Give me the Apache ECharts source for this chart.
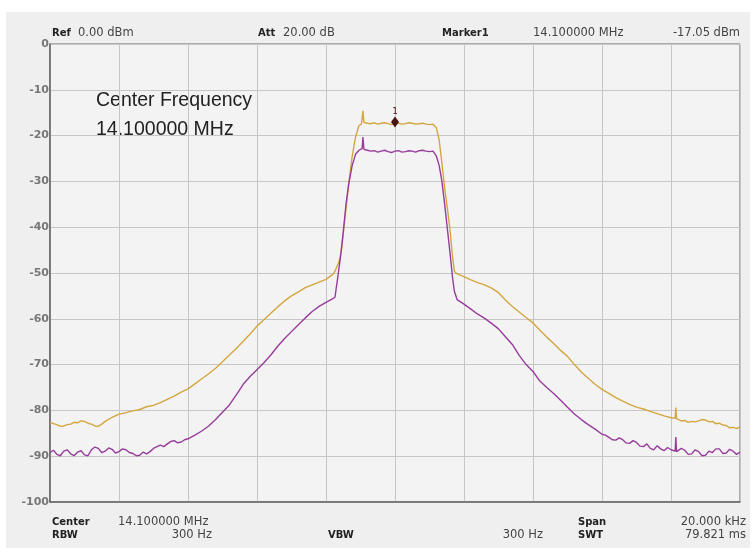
<!DOCTYPE html>
<html>
<head>
<meta charset="utf-8">
<script src="https://cdn.jsdelivr.net/npm/echarts@6/dist/echarts.min.js"></script>
<style>
  html, body { margin: 0; padding: 0; background: #ffffff; }
  #chart { position: absolute; left: 6px; top: 12px; width: 744px; height: 536px; background: #efefef; }
</style>
</head>
<body>
<div id="chart"></div>
<script>
// trace 1 (yellow) : [offset from centre in kHz, level in dBm]
const traceYellow = [
  [-10, -82.6], [-9.9, -82.9], [-9.8, -83.1], [-9.7, -83.5], [-9.6, -83.4], [-9.5, -83.1], [-9.4, -83.0],
  [-9.3, -82.6], [-9.2, -82.7], [-9.1, -82.3], [-9.0, -82.4], [-8.9, -82.8], [-8.8, -83.0], [-8.7, -83.4],
  [-8.6, -83.5], [-8.5, -83.0], [-8.4, -82.4], [-8.2, -81.5], [-8.0, -80.8], [-7.8, -80.5], [-7.6, -80.1],
  [-7.4, -79.8], [-7.2, -79.2], [-7.0, -78.9], [-6.8, -78.3], [-6.6, -77.6], [-6.4, -76.9], [-6.2, -76.0],
  [-6.0, -75.3], [-5.8, -74.2], [-5.6, -73.1], [-5.4, -72.0], [-5.2, -70.8], [-5.0, -69.4], [-4.8, -67.9],
  [-4.6, -66.5], [-4.4, -64.9], [-4.2, -63.3], [-4.0, -61.6], [-3.8, -60.2], [-3.6, -58.8], [-3.4, -57.4],
  [-3.2, -56.1], [-3.0, -55.0], [-2.8, -54.1], [-2.6, -53.2], [-2.4, -52.6], [-2.2, -52.0], [-2.0, -51.4],
  [-1.8, -50.3], [-1.74, -49.6], [-1.62, -47.5], [-1.55, -45], [-1.45, -38], [-1.35, -31], [-1.25, -25],
  [-1.15, -20.5], [-1.05, -17.9], [-0.97, -17.4], [-0.93, -14.6], [-0.9, -17.1],
  [-0.8, -17.3], [-0.7, -17.4], [-0.6, -17.2], [-0.5, -17.5], [-0.4, -17.3], [-0.3, -17.2], [-0.2, -17.4],
  [-0.1, -17.6], [0, -17.05], [0.1, -17.3], [0.2, -17.5], [0.3, -17.4], [0.4, -17.2], [0.5, -17.3],
  [0.6, -17.5], [0.7, -17.4], [0.8, -17.3], [0.9, -17.5], [1.0, -17.6], [1.1, -17.5],
  [1.2, -18.3], [1.28, -21], [1.36, -26], [1.44, -31.5], [1.52, -36], [1.6, -41], [1.66, -46], [1.72, -49.6],
  [1.8, -50.2], [2.0, -50.8], [2.2, -51.5], [2.4, -52.1], [2.6, -52.6], [2.8, -53.3], [3.0, -54.3],
  [3.2, -55.9], [3.4, -57.3], [3.6, -58.5], [3.8, -59.7], [4.0, -60.9], [4.2, -62.5], [4.4, -64.0],
  [4.6, -65.4], [4.8, -66.9], [5.0, -68.2], [5.2, -70.0], [5.4, -71.6], [5.6, -73.0], [5.8, -74.3],
  [6.0, -75.4], [6.2, -76.3], [6.4, -77.2], [6.6, -78.0], [6.8, -78.7], [7.0, -79.3], [7.2, -79.7],
  [7.4, -80.2], [7.6, -80.7], [7.8, -81.2], [8.0, -81.6], [8.12, -81.7], [8.14, -79.4], [8.16, -81.8],
  [8.2, -81.9], [8.3, -82.3], [8.4, -82.2], [8.5, -82.6], [8.6, -82.4], [8.7, -82.5], [8.8, -82.3],
  [8.9, -82.0], [9.0, -82.1], [9.1, -82.5], [9.2, -82.4], [9.3, -82.9], [9.4, -82.8], [9.5, -83.2],
  [9.6, -83.3], [9.7, -83.8], [9.8, -83.7], [9.9, -84.0], [10, -83.6]
];

// trace 2 (purple)
const tracePurple = [
  [-10, -89.2], [-9.9, -88.7], [-9.8, -89.6], [-9.7, -89.9], [-9.6, -88.9], [-9.5, -88.6], [-9.4, -89.5],
  [-9.3, -89.9], [-9.2, -89.1], [-9.1, -88.8], [-9.0, -89.7], [-8.9, -89.9], [-8.8, -88.6], [-8.7, -88.0],
  [-8.6, -88.3], [-8.5, -89.2], [-8.4, -88.9], [-8.3, -88.2], [-8.2, -88.5], [-8.1, -89.3], [-8.0, -89.0],
  [-7.9, -88.4], [-7.8, -88.6], [-7.7, -89.2], [-7.6, -89.4], [-7.5, -89.9], [-7.4, -89.8], [-7.3, -89.1],
  [-7.2, -89.5], [-7.1, -89.0], [-7.0, -88.3], [-6.9, -87.9], [-6.8, -87.6], [-6.7, -87.9], [-6.6, -87.3],
  [-6.5, -86.8], [-6.4, -86.6], [-6.3, -87.1], [-6.2, -86.9], [-6.1, -86.4], [-6.0, -86.2], [-5.8, -85.4],
  [-5.6, -84.5], [-5.4, -83.4], [-5.2, -82.0], [-5.0, -80.4], [-4.8, -78.8], [-4.6, -76.6], [-4.4, -74.3],
  [-4.2, -72.6], [-4.0, -71.1], [-3.8, -69.6], [-3.6, -67.9], [-3.4, -66.0], [-3.2, -64.3], [-3.0, -62.8],
  [-2.8, -61.3], [-2.6, -59.8], [-2.4, -58.4], [-2.2, -57.3], [-2.0, -56.4], [-1.8, -55.6], [-1.74, -55.3],
  [-1.66, -51], [-1.58, -46.5], [-1.5, -41], [-1.42, -35], [-1.34, -30.5], [-1.24, -26.5], [-1.14, -24.0],
  [-1.04, -23.2], [-0.95, -22.8], [-0.93, -20.3], [-0.9, -23.0],
  [-0.8, -23.2], [-0.7, -23.4], [-0.6, -23.3], [-0.5, -23.6], [-0.4, -23.4], [-0.3, -23.2], [-0.2, -23.5],
  [-0.1, -23.7], [0, -23.4], [0.1, -23.3], [0.2, -23.6], [0.3, -23.5], [0.4, -23.3], [0.5, -23.4],
  [0.6, -23.6], [0.7, -23.3], [0.8, -23.2], [0.9, -23.4], [1.0, -23.5], [1.1, -23.4],
  [1.2, -24.5], [1.28, -26.5], [1.36, -30], [1.44, -35], [1.52, -40.5], [1.6, -46], [1.66, -50.5], [1.72, -54],
  [1.8, -55.8], [2.0, -56.8], [2.2, -57.9], [2.4, -59.0], [2.6, -59.9], [2.8, -61.0], [3.0, -62.2],
  [3.2, -63.9], [3.4, -65.6], [3.6, -68.0], [3.8, -70.0], [4.0, -71.5], [4.2, -73.6], [4.4, -75.0],
  [4.6, -76.3], [4.8, -77.8], [5.0, -79.3], [5.2, -80.8], [5.4, -82.0], [5.6, -83.1], [5.8, -84.1],
  [6.0, -85.2], [6.1, -85.4], [6.2, -85.9], [6.3, -86.4], [6.4, -86.5], [6.5, -86.0], [6.6, -86.4],
  [6.7, -87.1], [6.8, -87.2], [6.9, -86.6], [7.0, -87.0], [7.1, -87.8], [7.2, -87.9], [7.3, -87.3],
  [7.4, -88.3], [7.5, -88.6], [7.6, -87.7], [7.7, -88.4], [7.8, -88.8], [7.9, -88.1], [8.0, -88.6],
  [8.12, -88.9], [8.14, -85.8], [8.16, -89.0], [8.2, -89.2], [8.3, -88.3], [8.4, -88.7], [8.5, -89.6],
  [8.6, -89.5], [8.7, -88.6], [8.8, -89.0], [8.9, -89.9], [9.0, -89.8], [9.1, -88.9], [9.2, -89.2],
  [9.3, -88.4], [9.4, -88.4], [9.5, -89.4], [9.6, -89.3], [9.7, -88.5], [9.8, -88.9], [9.9, -89.6], [10, -89.1]
];

const levelTicks = [0, -10, -20, -30, -40, -50, -60, -70, -80, -90, -100];
const markerPoint = [0, -17.05];

const chart = echarts.init(document.getElementById('chart'));
const txt = (x, y, s, bold, align) => ({
  type: 'text', x: x, y: y,
  style: {
    text: s, fill: bold ? '#222' : '#444',
    font: bold ? 'bold 10px "DejaVu Sans"' : '11.5px "DejaVu Sans"',
    textAlign: align || 'left', textVerticalAlign: 'middle'
  }
});

chart.setOption({
  animation: false,
  grid: {
    left: 44, right: 10, top: 32, bottom: 46,
    show: true, backgroundColor: '#f3f3f3', borderColor: '#666', borderWidth: 1
  },
  xAxis: {
    type: 'value', min: -10, max: 10, interval: 2,
    axisLine: { show: true, onZero: false, lineStyle: { color: '#666', width: 1.5 } },
    axisTick: { show: false },
    axisLabel: { show: false },
    splitLine: { show: true, lineStyle: { color: '#c6c6c6', width: 1 } }
  },
  yAxis: {
    type: 'value', min: -100, max: 0, interval: 10,
    axisLine: { show: true, onZero: false, lineStyle: { color: '#666', width: 1.5 } },
    axisTick: { show: false },
    axisLabel: {
      margin: 1, color: '#777', fontSize: 11, fontWeight: 'bold', fontFamily: 'DejaVu Sans',
      formatter: v => levelTicks.includes(v) ? String(v) : ''
    },
    splitLine: { show: true, lineStyle: { color: '#c6c6c6', width: 1 } }
  },
  series: [
    {
      type: 'line', data: traceYellow, showSymbol: false, z: 2,
      lineStyle: { color: '#d3a640', width: 1.4 },
      markPoint: {
        symbol: 'diamond', symbolSize: [8, 11],
        itemStyle: { color: '#4a1414' },
        label: { show: true, position: 'top', distance: 0, formatter: '1', color: '#4a1414', fontSize: 9, fontFamily: 'DejaVu Sans' },
        data: [{ coord: markerPoint }]
      }
    },
    {
      type: 'line', data: tracePurple, showSymbol: false, z: 3,
      lineStyle: { color: '#983c9c', width: 1.4 }
    }
  ],
  graphic: [
    txt(46, 21, 'Ref', true), txt(72, 21, '0.00 dBm'),
    txt(252, 21, 'Att', true), txt(277, 21, '20.00 dB'),
    txt(436, 21, 'Marker1', true), txt(527, 21, '14.100000 MHz'), txt(734, 21, '-17.05 dBm', false, 'right'),
    txt(46, 510, 'Center', true), txt(112, 510, '14.100000 MHz'),
    txt(46, 523, 'RBW', true), txt(206, 523, '300 Hz', false, 'right'),
    txt(322, 523, 'VBW', true), txt(537, 523, '300 Hz', false, 'right'),
    txt(572, 510, 'Span', true), txt(740, 510, '20.000 kHz', false, 'right'),
    txt(572, 523, 'SWT', true), txt(740, 523, '79.821 ms', false, 'right'),
    {
      type: 'text', x: 90, y: 89,
      style: { text: 'Center Frequency', fill: '#222', font: '19.5px "Liberation Sans"', textVerticalAlign: 'middle' }
    },
    {
      type: 'text', x: 90, y: 118,
      style: { text: '14.100000 MHz', fill: '#222', font: '19.5px "Liberation Sans"', textVerticalAlign: 'middle' }
    }
  ]
});
</script>
</body>
</html>
